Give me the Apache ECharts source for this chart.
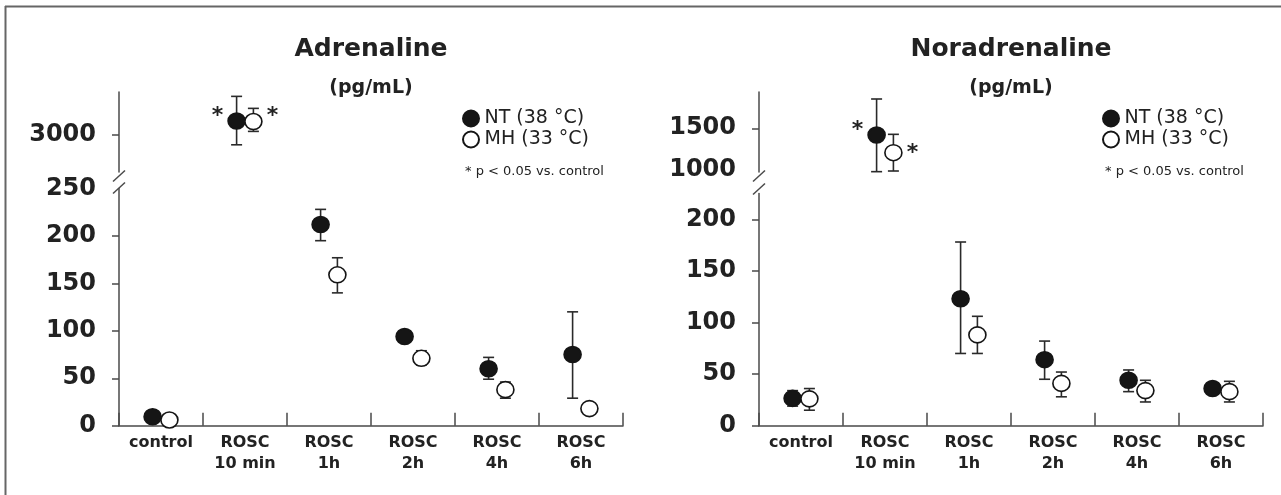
<!DOCTYPE html>
<html lang="en">
<head>
   <meta charset="utf-8">
   <title>Adrenaline / Noradrenaline</title>
   <script src="https://cdn.jsdelivr.net/npm/echarts@6.0.0/dist/echarts.min.js"></script>
   <style>
      html, body { margin: 0; padding: 0; background: #fff; }
      #chart-container { width: 1281px; height: 495px; }
   </style>
</head>
<body>
   <div id="chart-container"></div>
   <script>
      var categories = ['control', 'ROSC\n10 min', 'ROSC\n1h', 'ROSC\n2h', 'ROSC\n4h', 'ROSC\n6h'];

      // Adrenaline (pg/mL): mean, lower and upper end of error bar
      var adrNT = [9.5, 3230, 212, 94, 60, 75];
      var adrNTLow = [7, 2842, 195, 90, 49, 29];
      var adrNTHigh = [12, 3629, 228, 98, 72, 120];
      var adrMH = [6, 3220, 159, 71, 38, 18];
      var adrMHLow = [4, 3060, 140, 64, 29, 15];
      var adrMHHigh = [8, 3434, 177, 79, 46, 21];

      // Noradrenaline (pg/mL)
      var noradNT = [26.5, 1419, 123, 64, 44, 36];
      var noradNTLow = [19, 979, 70, 45, 33, 32];
      var noradNTHigh = [34, 1851, 178, 82, 54, 40];
      var noradMH = [26, 1207, 88, 41, 34, 33];
      var noradMHLow = [15, 987, 70, 28, 23, 23];
      var noradMHHigh = [36, 1427, 106, 52, 44, 43];

      // significant vs. control (asterisk)
      var signif = [false, true, false, false, false, false];

      // tick labels
      var adrLowLabels = [0, 50, 100, 150, 200, 250];
      var adrLowTicks = [0, 50, 100, 150, 200];
      var adrHighLabels = [3000];
      var noradLowLabels = [0, 50, 100, 150, 200];
      var noradHighLabels = [1000, 1500];
      var noradHighTicks = [1500];

      var seriesNames = ['NT (38 °C)', 'MH (33 °C)'];

      var FONT = 'DejaVu Sans';
      var INK = '#222';
      var AXIS = '#4a4a4a';

      var dom = document.getElementById('chart-container');
      var myChart = echarts.init(dom, null, { renderer: 'canvas' });

      var grids = [], xAxes = [], yAxes = [], series = [], legends = [], graphics = [];

      function errorSeries(xi, yi, data) {
         return {
            type: 'custom',
            xAxisIndex: xi,
            yAxisIndex: yi,
            z: 2,
            silent: true,
            encode: { x: 0, y: [1, 2] },
            renderItem: function(params, api) {
               var p1 = api.coord([api.value(0), api.value(1)]);
               var p2 = api.coord([api.value(0), api.value(2)]);
               var style = { stroke: '#2a2a2a', lineWidth: 1.6 };
               var w = 5.5;
               return {
                  type: 'group',
                  children: [
                     { type: 'line', shape: { x1: p1[0], y1: p1[1], x2: p2[0], y2: p2[1] }, style: style },
                     { type: 'line', shape: { x1: p1[0] - w, y1: p1[1], x2: p1[0] + w, y2: p1[1] }, style: style },
                     { type: 'line', shape: { x1: p2[0] - w, y1: p2[1], x2: p2[0] + w, y2: p2[1] }, style: style }
                  ]
               };
            },
            data: data
         };
      }

      function valueAxis(gi, min, max, labels, ticks) {
         return {
            type: 'value',
            gridIndex: gi,
            position: 'left',
            min: min,
            max: max,
            splitLine: { show: false },
            axisLine: { show: true, onZero: false, lineStyle: { color: AXIS, width: 1.5 } },
            axisTick: { show: true, inside: false, length: 7, customValues: ticks, lineStyle: { color: AXIS, width: 1.5 } },
            axisLabel: {
               customValues: labels,
               formatter: function(v) { return String(v); },
               margin: 23,
               color: INK,
               fontFamily: FONT,
               fontWeight: 'bold',
               fontSize: 24
            }
         };
      }

      function panel(p) {
         var gU = grids.length;
         grids.push({ left: p.left, top: 92, width: 504, height: 80, containLabel: false, outerBoundsMode: 'none' });
         grids.push({ left: p.left, top: p.lowTop, width: 504, height: 425.7 - p.lowTop, containLabel: false, outerBoundsMode: 'none' });

         var xU = xAxes.length;
         xAxes.push({ type: 'value', gridIndex: gU, min: 0, max: 6, show: false });
         xAxes.push({ type: 'value', gridIndex: gU + 1, min: 0, max: 6, show: false, position: 'top' });
         xAxes.push({
            type: 'category',
            gridIndex: gU + 1,
            position: 'bottom',
            data: categories,
            boundaryGap: true,
            axisLine: { show: true, onZero: false, lineStyle: { color: AXIS, width: 1.5 } },
            axisTick: { show: true, inside: true, length: 13, interval: 0, lineStyle: { color: AXIS, width: 1.5 } },
            axisLabel: {
               interval: 0,
               margin: 7,
               color: INK,
               fontFamily: FONT,
               fontWeight: 'bold',
               fontSize: 16,
               lineHeight: 21
            }
         });

         var yU = yAxes.length;
         yAxes.push(valueAxis(gU, p.highMin, p.highMax, p.highLabels, p.highTicks));
         yAxes.push(valueAxis(gU + 1, 0, p.lowMax, p.lowLabels, p.lowTicks));

         var groups = [
            { name: seriesNames[0], mean: p.nt, lo: p.ntLow, hi: p.ntHigh, shift: -0.1, fill: '#151515', side: 'left' },
            { name: seriesNames[1], mean: p.mh, lo: p.mhLow, hi: p.mhHigh, shift: 0.1, fill: '#ffffff', side: 'right' }
         ];

         [0, 1].forEach(function(part) {
            groups.forEach(function(g) {
               var err = [], pts = [];
               g.mean.forEach(function(v, i) {
                  var upper = v > p.lowMax;
                  if ((part === 0) !== upper) return;
                  var x = i + 0.5 + g.shift;
                  err.push([x, g.lo[i], g.hi[i]]);
                  var item = { value: [x, v] };
                  if (signif[i]) {
                     item.label = {
                        show: true,
                        formatter: '*',
                        position: g.side,
                        distance: 4,
                        offset: [0, g.side === 'left' ? -5 : p.mhStarDy],
                        color: INK,
                        fontFamily: FONT,
                        fontWeight: 'bold',
                        fontSize: 22
                     };
                  }
                  pts.push(item);
               });
               series.push(errorSeries(xU + part, yU + part, err));
               series.push({
                  name: g.name,
                  type: 'scatter',
                  xAxisIndex: xU + part,
                  yAxisIndex: yU + part,
                  z: 3,
                  symbol: 'circle',
                  symbolSize: [17, 16],
                  itemStyle: { color: g.fill, borderColor: '#151515', borderWidth: 1.6, opacity: 1 },
                  data: pts
               });
            });
         });

         legends.push({
            data: seriesNames,
            orient: 'vertical',
            left: p.left + 338,
            top: 104,
            itemGap: 2,
            itemWidth: 17,
            itemHeight: 16,
            icon: 'circle',
            selectedMode: false,
            textStyle: { color: INK, fontFamily: FONT, fontSize: 19 }
         });

         var cx = p.left + 252;
         graphics.push(
            { type: 'text', x: cx, y: 49, style: { text: p.title, font: 'bold 25px "DejaVu Sans"', fill: INK, textAlign: 'center', align: 'center', textVerticalAlign: 'middle', verticalAlign: 'middle' } },
            { type: 'text', x: cx, y: 88, style: { text: '(pg/mL)', font: 'bold 19px "DejaVu Sans"', fill: INK, textAlign: 'center', align: 'center', textVerticalAlign: 'middle', verticalAlign: 'middle' } },
            { type: 'text', x: p.left + 346, y: 172, style: { text: '* p < 0.05 vs. control', font: '13px "DejaVu Sans"', fill: INK, textAlign: 'left', align: 'left', textVerticalAlign: 'middle', verticalAlign: 'middle' } }
         );

         // axis break marks
         p.breaks.forEach(function(by) {
            graphics.push({
               type: 'line',
               shape: { x1: p.left - 6, y1: by + 5.5, x2: p.left + 6, y2: by - 5.5 },
               style: { stroke: AXIS, lineWidth: 1.5 }
            });
         });
      }

      panel({
         left: 119,
         title: 'Adrenaline',
         lowTop: 188.5,
         lowMax: 250,
         highMin: 2400,
         highMax: 3700,
         lowLabels: adrLowLabels,
         lowTicks: adrLowTicks,
         highLabels: adrHighLabels,
         highTicks: adrHighLabels,
         nt: adrNT, ntLow: adrNTLow, ntHigh: adrNTHigh,
         mh: adrMH, mhLow: adrMHLow, mhHigh: adrMHHigh,
         mhStarDy: -5,
         breaks: [176, 188]
      });

      panel({
         left: 759,
         title: 'Noradrenaline',
         lowTop: 193.5,
         lowMax: 225,
         highMin: 975,
         highMax: 1935,
         lowLabels: noradLowLabels,
         lowTicks: noradLowLabels,
         highLabels: noradHighLabels,
         highTicks: noradHighTicks,
         nt: noradNT, ntLow: noradNTLow, ntHigh: noradNTHigh,
         mh: noradMH, mhLow: noradMHLow, mhHigh: noradMHHigh,
         mhStarDy: 1,
         breaks: [176, 189]
      });

      // frame (top and left edge)
      graphics.push(
         { type: 'line', shape: { x1: 5, y1: 6.5, x2: 1281, y2: 6.5 }, style: { stroke: '#666', lineWidth: 2 } },
         { type: 'line', shape: { x1: 5.5, y1: 6, x2: 5.5, y2: 495 }, style: { stroke: '#666', lineWidth: 2 } }
      );

      var option = {
         backgroundColor: '#fff',
         animation: false,
         textStyle: { fontFamily: FONT },
         grid: grids,
         xAxis: xAxes,
         yAxis: yAxes,
         legend: legends,
         series: series,
         graphic: graphics
      };

      if (option && typeof option === 'object') {
         myChart.setOption(option);
      }
   </script>
</body>
</html>
